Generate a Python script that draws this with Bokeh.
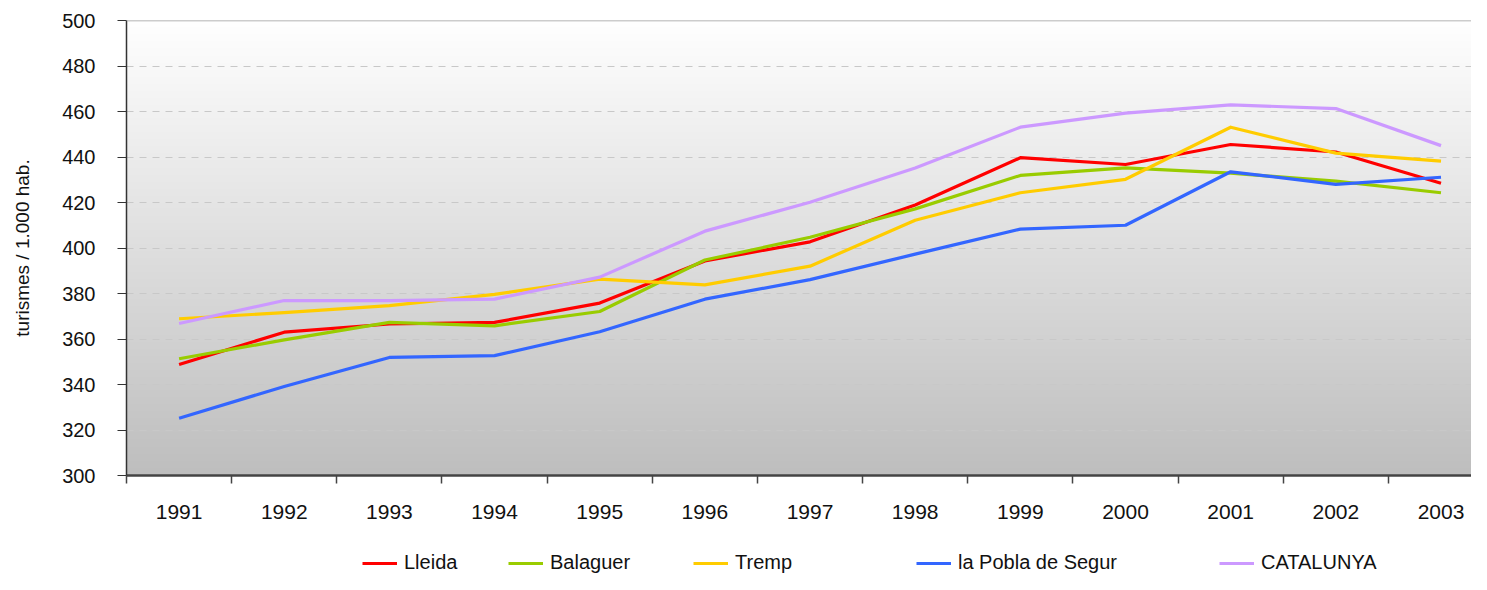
import numpy as np
from bokeh.plotting import figure
from bokeh.layouts import column
from bokeh.models import (Range1d, FixedTicker, Span, Legend, LegendItem)
from bokeh.embed import file_html
from bokeh.resources import INLINE

years = ["1991", "1992", "1993", "1994", "1995", "1996", "1997",
         "1998", "1999", "2000", "2001", "2002", "2003"]
lleida = [348.8, 363.0, 366.6, 367.3, 375.8, 394.3, 402.7, 418.9, 439.7, 436.7, 445.5, 442.2, 428.5]
balaguer = [351.3, 359.6, 367.3, 365.8, 372.1, 394.7, 404.7, 417.2, 431.9, 435.2, 432.9, 429.4, 424.3]
tremp = [368.9, 371.6, 374.7, 379.6, 386.3, 383.8, 392.0, 412.2, 424.3, 430.2, 453.1, 441.7, 438.2]
pobla = [325.2, 339.1, 351.9, 352.7, 363.2, 377.5, 386.1, 397.3, 408.3, 410.0, 433.5, 428.0, 431.1]
catalunya = [366.8, 376.9, 376.9, 377.5, 387.2, 407.4, 420.1, 435.2, 453.1, 459.3, 462.9, 461.3, 445.0]

series_names = ["Lleida", "Balaguer", "Tremp", "la Pobla de Segur", "CATALUNYA"]
series_values = [lleida, balaguer, tremp, pobla, catalunya]
series_colors = ["#FF0000", "#99CC00", "#FFCC00", "#3366FF", "#CC99FF"]

y_ticks = list(range(300, 501, 20))
y_label = "turismes / 1.000 hab."

FONT = "Liberation Sans"

x_pos = [i + 0.5 for i in range(len(years))]

p = figure(width=1471, height=522, output_backend="svg", toolbar_location=None,
           x_range=Range1d(0, 12.79), y_range=Range1d(300, 500),
           min_border_left=126, min_border_right=0, min_border_top=20,
           min_border_bottom=47, background_fill_color="white",
           border_fill_color="white")
p.outline_line_color = None

# gradient background
n = 256
vals = np.linspace(190, 255, n).astype(np.uint8)
img = np.empty((n, 1), dtype=np.uint32)
view = img.view(dtype=np.uint8).reshape((n, 1, 4))
view[:, 0, 0] = vals
view[:, 0, 1] = vals
view[:, 0, 2] = vals
view[:, 0, 3] = 255
p.image_rgba(image=[img], x=0, y=300, dw=13, dh=200, level="image")

# grid
p.xgrid.grid_line_color = None
p.ygrid.ticker = FixedTicker(ticks=y_ticks[1:-1])
p.ygrid.grid_line_color = "#C8C8C8"
p.ygrid.grid_line_dash = "7 6"
p.ygrid.grid_line_width = 1

p.add_layout(Span(location=500, dimension="width", line_color="#999999", line_width=1.5))

# y axis
p.yaxis.ticker = FixedTicker(ticks=y_ticks)
p.yaxis.major_tick_out = 9
p.yaxis.major_tick_in = 0
p.yaxis.minor_tick_line_color = None
p.yaxis.major_tick_line_color = "#333333"
p.yaxis.axis_line_color = "#333333"
p.yaxis.axis_line_width = 1.5
p.yaxis.major_label_text_font = FONT
p.yaxis.major_label_text_font_size = "20px"
p.yaxis.major_label_text_color = "#111111"
p.yaxis.major_label_standoff = 22
p.yaxis.axis_label = y_label
p.yaxis.axis_label_text_font = FONT
p.yaxis.axis_label_text_font_size = "19px"
p.yaxis.axis_label_text_font_style = "normal"
p.yaxis.axis_label_text_color = "#111111"
p.yaxis.axis_label_standoff = 26

# x axis
p.xaxis.ticker = FixedTicker(ticks=x_pos, minor_ticks=list(range(len(years) + 1)))
p.xaxis.major_label_overrides = {x: y for x, y in zip(x_pos, years)}
p.xaxis.major_tick_line_color = None
p.xaxis.major_tick_out = 0
p.xaxis.major_tick_in = 0
p.xaxis.minor_tick_out = 8
p.xaxis.minor_tick_in = 0
p.xaxis.minor_tick_line_color = "#444444"
p.xaxis.minor_tick_line_width = 1.5
p.xaxis.axis_line_color = "#444444"
p.xaxis.axis_line_width = 2.5
p.xaxis.major_label_text_font = FONT
p.xaxis.major_label_text_font_size = "21px"
p.xaxis.major_label_text_color = "#111111"
p.xaxis.major_label_standoff = 21

for name, vals_, color in zip(series_names, series_values, series_colors):
    p.line(x_pos, vals_, line_color=color, line_width=3.2, line_join="round")

# legend strip below the chart (its frame is aligned with the chart's frame)
p2 = figure(width=1471, height=52, output_backend="svg", toolbar_location=None,
            x_range=Range1d(0, 12.79), y_range=Range1d(0, 1),
            x_axis_location=None, y_axis_location=None,
            min_border_left=0, min_border_right=0, min_border_top=0,
            min_border_bottom=0, background_fill_color="white",
            border_fill_color="white")
p2.outline_line_color = None
p2.grid.grid_line_color = None

legend_x = [236, 382, 567, 790, 1093]
for lx, name, vals_, color in zip(legend_x, series_names, series_values, series_colors):
    # same series, outside this strip's visible y-range: only its legend entry shows
    r = p2.line(x_pos, vals_, line_color=color, line_width=3.2)
    lg = Legend(items=[LegendItem(label=name, renderers=[r])],
                location=(lx, 0), orientation="horizontal",
                glyph_width=35, glyph_height=20, label_height=20,
                label_standoff=7, padding=0, margin=0, spacing=0,
                border_line_color=None, background_fill_alpha=0,
                label_text_font=FONT, label_text_font_size="20px",
                label_text_color="#111111")
    p2.add_layout(lg, "center")

layout = column(p, p2, spacing=0)
open("out.html", "w").write(file_html(layout, INLINE))
